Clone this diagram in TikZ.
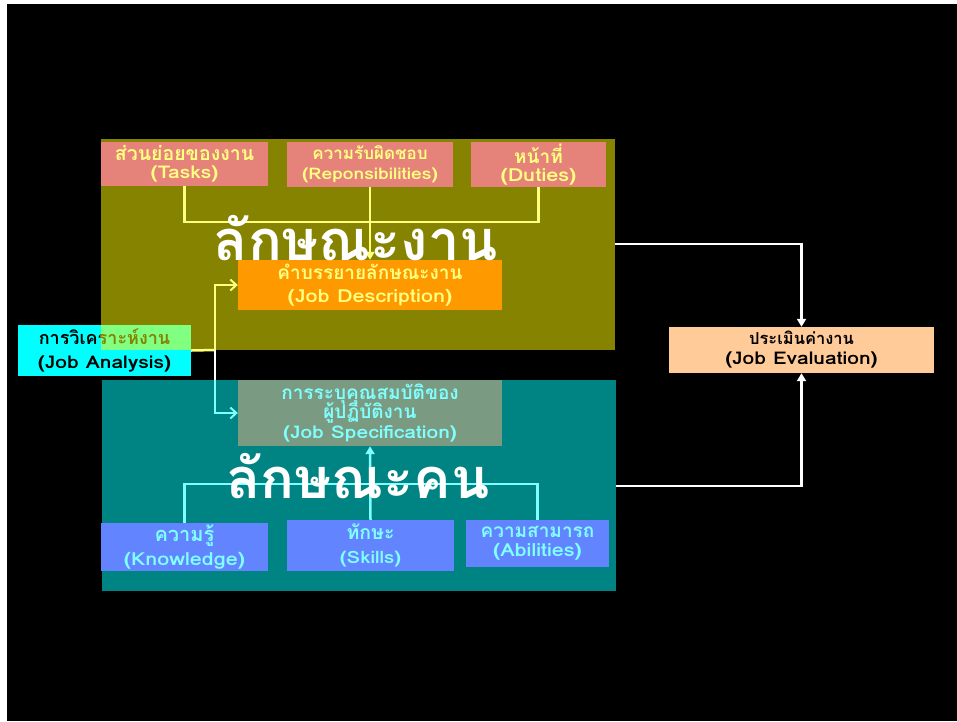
\documentclass[tikz,border=0pt]{standalone}
\usepackage{fontspec}
\newfontfamily\thai[Script=Thai]{Loma}
\newfontfamily\lat[FakeStretch=1.2]{Loma}
\usetikzlibrary{arrows.meta}
\definecolor{olivebg}{RGB}{133,131,0}
\definecolor{tealbg}{RGB}{0,131,131}
\definecolor{salmon}{RGB}{229,131,123}
\definecolor{ltyel}{RGB}{255,255,128}
\definecolor{ltcyan}{RGB}{128,255,255}
\definecolor{orangebox}{RGB}{255,153,0}
\definecolor{cyanbox}{RGB}{0,255,255}
\definecolor{lgreen}{RGB}{128,255,128}
\definecolor{specbox}{RGB}{122,155,130}
\definecolor{bluebox}{RGB}{99,132,255}
\definecolor{peach}{RGB}{255,204,153}
\newcommand\thline[2]{{\thai\bfseries\fontsize{#1}{#1}\selectfont #2}}
\newcommand\laline[2]{{\lat\bfseries\fontsize{#1}{#1}\selectfont #2}}
\newcommand\tightlines{\lineskiplimit=-100pt\relax}
\newcommand\nodepth[1]{\raisebox{0pt}[\height][0pt]{#1}}
\tikzset{
  panel/.style={rectangle, inner sep=0pt, draw=none},
  tbox/.style={rectangle, inner sep=0pt, align=center, draw=none},
  lsp/.style={font={\fontsize{14}{#1}\selectfont\tightlines}},
  big/.style={font=\thai\bfseries\fontsize{56}{60}\selectfont, text=white, inner sep=0pt},
  yl/.style={draw=ltyel, line width=2.5pt},
  cl/.style={draw=ltcyan, line width=2.5pt},
  wl/.style={draw=white, line width=2.5pt},
  barb/.style={-{Straight Barb[length=6pt,width=11pt,line width=2pt]}},
  tri/.style={-{Triangle[length=8pt,width=9pt]}}
}
\begin{document}
\begin{tikzpicture}[x=1pt,y=-1pt]
\useasboundingbox (0,0) rectangle (957,721);
\fill[white] (0,0) rectangle (957,721);
\fill[black] (7,4) rectangle (957,721);
% panels
\node[panel, fill=olivebg, minimum width=514, minimum height=211] (jobpanel) at (358,244.5) {};
\node[panel, fill=tealbg, minimum width=514, minimum height=211] (peoplepanel) at (359,485.5) {};
% top boxes
\node[tbox, fill=salmon, text=ltyel, lsp=18, minimum width=167, minimum height=44] (tasks) at (184.5,164) {\thline{19.5}{ส่วนย่อยของงาน}\\\laline{17.5}{(Tasks)}};
\node[tbox, fill=salmon, text=ltyel, lsp=20, minimum width=166, minimum height=45] (resp) at (370,164.5) {\thline{17}{ความรับผิดชอบ}\\\laline{16}{(Reponsibilities)}};
\node[tbox, fill=salmon, text=ltyel, lsp=18, minimum width=135, minimum height=45] (duties) at (538.5,164.5) {\thline{19}{หน้าที่}\\\laline{18}{(Duties)}};
\node[tbox, fill=orangebox, text=ltyel, lsp=23, minimum width=264, minimum height=50] (jobdesc) at (370,285) {\thline{19}{คำบรรยายลักษณะงาน}\\\laline{18}{(Job Description)}};
% job analysis
\node[tbox, fill=cyanbox, text=black, lsp=24, minimum width=173, minimum height=51] (jobanalysis) at (104.5,350.5) {\thline{18}{การวิเคราะห์งาน}\\\laline{17.5}{(Job Analysis)}};
\fill[lgreen] (jobpanel.west |- jobanalysis.north) rectangle (jobanalysis.east |- jobpanel.south);
\begin{scope}
  \clip (jobpanel.west |- jobanalysis.north) rectangle (jobanalysis.east |- jobpanel.south);
  \node[tbox, text=olivebg, lsp=24, minimum width=173, minimum height=51] (jobanalysistint) at (jobanalysis.center) {\thline{18}{การวิเคราะห์งาน}\\\laline{17.5}{(Job Analysis)}};
\end{scope}
% spec
\node[tbox, fill=specbox, text=ltcyan, lsp=19.5, minimum width=264, minimum height=66] (jobspec) at (370,413) {\thline{19}{การระบุคุณสมบัติของ}\\\thline{19}{ผู้ปฏิบัติงาน}\\\laline{17.5}{(Job Specification)}};
% bottom boxes
\node[tbox, fill=bluebox, text=ltcyan, lsp=24, minimum width=167, minimum height=48] (knowledge) at (184.5,547) {\thline{20}{ความรู้}\\\laline{18}{(Knowledge)}};
\node[tbox, fill=bluebox, text=ltcyan, lsp=24, minimum width=167, minimum height=51] (skills) at (370.5,545.5) {\thline{19.5}{ทักษะ}\\\laline{17}{(Skills)}};
\node[tbox, fill=bluebox, text=ltcyan, lsp=19, minimum width=143, minimum height=47] (abilities) at (537.5,543.5) {\thline{19}{ความสามารถ}\\\laline{18}{(Abilities)}};
% evaluation
\node[tbox, fill=peach, text=black, lsp=20, minimum width=265, minimum height=46] (jobeval) at (801.5,350) {\thline{16.5}{ประเมินค่างาน}\\\laline{17.5}{(Job Evaluation)}};
% connectors
\coordinate (jn) at (370,222);
\coordinate (ja) at (215,350);
\coordinate (jb) at (215,380);
\coordinate (kn) at (370,484);
\coordinate (e1) at (801.5,244);
\coordinate (e2) at (801.5,486);
\draw[yl] (tasks.south) |- (jn) -| (duties.south);
\draw[yl, tri] (resp.south) -- (jobdesc.north);
\draw[yl] (jobanalysis.east) -- (ja);
\draw[yl, barb] (ja) |- (jobdesc.west);
\draw[wl] (ja) -- (jb);
\draw[cl, barb] (jb) |- (jobspec.west);
\draw[cl] (knowledge.north) |- (kn) -| (abilities.north);
\draw[cl, tri] (skills.north) -- (jobspec.south);
\draw[wl, tri] (jobpanel.east |- e1) -- (e1) -- (jobeval.north);
\draw[wl, tri] (peoplepanel.east |- e2) -- (e2) -- (jobeval.south);
% big titles
\node[big, anchor=base] (jobtitle) at (356,260) {\nodepth{ลักษณะงาน}};
\node[big, anchor=base] (peopletitle) at (358,498) {\nodepth{ลักษณะคน}};
\end{tikzpicture}
\end{document}
